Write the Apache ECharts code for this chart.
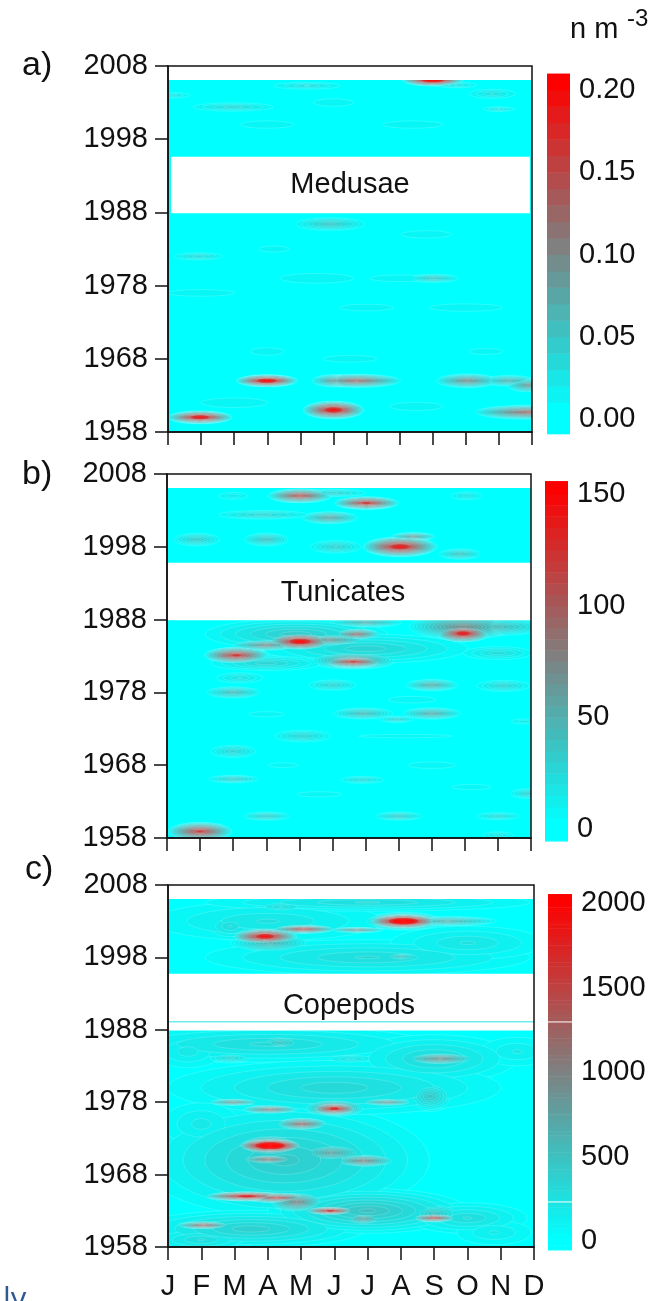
<!DOCTYPE html>
<html><head><meta charset="utf-8">
<style>html,body{margin:0;padding:0;background:#fff}#c{width:659px;height:1301px}</style>
<script src="https://cdn.jsdelivr.net/npm/echarts@6/dist/echarts.min.js"></script>
</head><body><div id="c"></div>
<script>
const monthLabels = ['J','F','M','A','M','J','J','A','S','O','N','D'];
const yearMin = 1958, yearMax = 2008;

// Each row: month index, year, reach in months, reach in years, peak value
const medusaeBlobs = [
 [0.97,1960,1.0,0.9,0.21],[2.99,1965,0.95,0.85,0.22],[5,1961,0.95,1.25,0.21],
 [5.7,1965,1.4,0.95,0.13],[5,1965,0.7,0.9,0.09],[9.05,1965,1.0,1.0,0.10],[10.3,1965,0.9,0.8,0.07],[10.9,1964.4,0.7,1.0,0.09],
 [10.9,1960.7,1.7,1.0,0.13],[8.03,1979,0.85,0.65,0.05],[0.92,1982,0.9,0.6,0.035],[4.9,1986.4,1.2,1.0,0.05],
 [8,2006.1,0.95,0.85,0.24],[1.97,2002.4,1.5,0.7,0.035],[0.15,2004,0.7,0.5,0.025],[4.2,2005.3,1.3,0.6,0.03],
 [9.8,2004.2,0.9,0.8,0.03],[10,2002.1,0.6,0.4,0.03],[8.7,2005.4,0.8,0.5,0.03],
 // faint outer contours
 [3,2000,1.6,1,0.014],[7.4,2000,1.8,1,0.014],[5,2003,1.2,1,0.014],[1,1977,2,0.9,0.014],[4.5,1979,2.2,1.3,0.014],
 [6,1975,1.6,0.9,0.014],[9,1975,2.2,1,0.014],[3,1969,1,1,0.014],[5.5,1968,1.6,0.9,0.014],[9.6,1969,1,0.8,0.014],
 [7,1979,1.8,0.9,0.014],[2,1962,2,1.3,0.014],[7.5,1961.5,1.6,1.1,0.014],[3.2,1983,0.9,0.8,0.014],[7.8,1985,1.5,1,0.014]
];
const tunicatesBlobs = [
 [4.02,2005,1,1,115],[6.03,2004,1,0.9,130],[4.92,2002,0.9,0.9,60],[2.9,2002.4,1.6,0.7,30],[7.04,1998,1.15,1.4,150],
 [7.44,1999.4,0.7,0.6,65],[3,1999,0.75,1,40],[0.9,1999,0.8,1,35],[5.1,1998,0.9,1,32],[8.85,1997,0.7,0.8,40],
 [2,2005,0.65,0.7,15],[9.05,2005,0.6,0.7,20],[5,2005.4,1.2,0.6,30],[4.02,1985,1,1.15,165],[2.1,1983.1,1,1.15,130],
 [8.95,1986.1,0.85,1.2,150],[8.95,1987,1.75,1.8,75],[5.63,1982.2,1,0.9,125],[5.63,1982.4,1.4,1.3,70],[5.73,1986,0.75,0.8,90],
 [3,1984.5,1.1,0.8,75],[4.9,1985.2,1.25,0.9,70],[3.9,1986,3.2,2.4,35],[6,1984,3.7,2.4,30],[10,1987,1.6,1.3,45],
 [10,1983.4,1.3,1.1,25],[6,1987.6,1.2,0.7,50],[3,1982,2,1.2,30],
 [8,1979,0.85,0.85,55],[10.16,1978.9,0.95,0.9,30],[5,1979,0.85,0.85,30],[2,1978,0.9,0.85,45],[2.2,1980,0.9,0.9,22],
 [5.93,1975.1,1,0.85,45],[8,1975.1,0.95,0.85,55],[6.94,1974.3,0.6,0.5,30],[4.1,1972,1,0.95,30],[2,1969.9,0.8,1,30],
 [2,1966.1,0.85,0.6,35],[5.9,1966,0.8,0.6,25],[10.9,1964.1,0.6,0.8,30],[3,1961,0.8,0.65,35],[7,1961,0.8,0.65,35],
 [10,1961,0.8,0.6,25],[1,1958.9,1,1.3,125],[10,1958.4,0.6,0.6,20],[10.8,1974,0.6,0.5,15],[7.2,1972,2.8,0.45,10],
 // faint outer contours
 [8,1968,1.6,1,9],[3.5,1968,1,0.7,9],[4.6,1964,1.5,0.8,9],[9.2,1965,1.3,0.8,9],[3,1975,1.2,0.8,9],[7.4,1977,1.6,1,9]
];
const copepodsBlobs = [
 [7.08,2003,1.05,1.0,2700],[7.08,2003,1.25,1.3,1000],[2.92,2000.9,1,1.1,2100],[4.07,2001.9,1,0.6,1500],[5.68,2001.8,0.85,0.4,900],
 [8.4,2003,1.6,0.7,700],[3.07,2000,1.3,1.4,650],[1.87,2002.3,1,2.3,320],[7,1998.1,0.75,0.75,520],[5.8,1997.9,1.1,1.2,320],
 [8.9,1999.7,0.9,1.2,220],[3.4,2005,1.1,1,320],[3,2003,4.5,3.5,260],[6,1998,6,3,320],[9,2000,3,3,260],[6,2005.6,6,1.5,320],
 [8.18,1984,1.2,0.95,950],[3.37,1986.2,1.1,1.4,480],[1.87,1984.1,0.9,0.8,360],[5.5,1984,1.1,0.8,280],[3,1986,6,3,330],[8,1984,3,4,350],
 [3.07,1972,1,1,2800],[3.07,1972,1.15,1.7,1100],[5,1977.1,0.75,0.9,1900],[5,1977.2,1,1.3,1000],[4.02,1975,0.85,0.9,1250],
 [3.07,1977,0.9,0.6,1100],[1.97,1978,0.8,0.5,900],[6.58,1978,0.85,0.5,900],[3.02,1970.1,1,0.75,1100],[5.88,1969.9,1,1,1050],
 [4.9,1971,1.2,1.4,800],[2.37,1965,1.3,0.7,1950],[3.27,1964.8,1.1,0.75,1550],[3.87,1964.2,0.9,1.5,1050],[4.88,1963,0.8,0.6,1800],
 [8,1962,0.7,0.6,1500],[8,1962.6,1,1.7,520],[1.07,1961,0.9,0.6,1250],[5.88,1961.9,0.7,1,800],[7.88,1978.8,0.8,2.4,480],
 [3.5,1970,5,9,460],[2.5,1960.5,4,3,420],[1,1959,2,2,320],[6,1963,3.4,3.5,520],[9,1962,2.2,2.6,320],[5,1980,6,4.5,360],[9.8,1960,1.6,2.4,200],
 [1,1975,1.6,4,220],[0.6,1985,1.4,3,230],[10.5,1985,1.6,2.8,200]
];

const medusaeGaps = [[2006.1,2008,0,11],[1987.9,1995.6,0.09,10.94]];
const tunicatesGaps = [[2006.08,2008,0,11],[1987.9,1995.8,0,11]];
const copepodsGaps = [[2006.07,2008,0,11],[1987.9,1995.74,0,11]];
const copepodsLineYears = [1989.1];
const copepodsBarLines = [1296,231];

const medusaeBarTicks = [0,0.05,0.1,0.15,0.2];
const tunicatesBarTicks = [0,50,100,150];
const copepodsBarTicks = [0,500,1000,1500,2000];

const font = '"Liberation Sans", Arial, sans-serif';
const black = '#111';

function colorAt(t){
  t = Math.max(0,Math.min(1,t));
  const r = Math.round(255*t), g = Math.round(255*(1-t));
  return 'rgb('+r+','+g+','+g+')';
}
function rings(blobs, step, top){
  const rows = [];
  for (const b of blobs){
    for (let l = 1; l*step < b[4]; l++){
      const k = 1 - l*step/b[4];
      rows.push([b[0],b[1],b[2]*k,b[3]*k,l*step/top]);
    }
  }
  rows.sort((p,q)=>p[4]-q[4]);
  return rows;
}
const panels = [
 {name:'Medusae',blobs:medusaeBlobs,gaps:medusaeGaps,lines:[],barLines:[],ticks:medusaeBarTicks,digits:2,step:0.007,top:0.2,barStep:0.01,
  grid:{left:168,top:66,width:364,height:366},bar:{left:547,top:90,width:23,height:329},barLow:-0.009,barHigh:0.21,xLabels:false},
 {name:'Tunicates',blobs:tunicatesBlobs,gaps:tunicatesGaps,lines:[],barLines:[],ticks:tunicatesBarTicks,digits:0,step:5,top:150,barStep:5,
  grid:{left:167,top:474,width:364,height:364},bar:{left:545,top:494,width:23,height:335},barLow:-5.4,barHigh:155.8,xLabels:false},
 {name:'Copepods',blobs:copepodsBlobs,gaps:copepodsGaps,lines:copepodsLineYears,barLines:copepodsBarLines,ticks:copepodsBarTicks,digits:0,step:60,top:2000,barStep:25,
  grid:{left:168,top:885,width:366,height:363},bar:{left:548,top:903,width:24,height:338},barLow:-53,barHigh:2053,xLabels:true}
];
const grids=[],xAxes=[],yAxes=[],series=[];
panels.forEach((p,i)=>{
  const gi = grids.length;
  grids.push(Object.assign({show:true,backgroundColor:'#00ffff',borderWidth:0},p.grid));
  xAxes.push({type:'value',gridIndex:gi,min:0,max:11,interval:1,z:5,
    axisLine:{onZero:false,lineStyle:{color:black,width:1.5}},
    axisTick:{show:true,length:13,lineStyle:{color:black,width:1.5}},splitLine:{show:false},
    axisLabel:{show:p.xLabels,margin:25,fontSize:29,fontFamily:font,color:black,hideOverlap:false,showMinLabel:true,showMaxLabel:true,
      formatter:v=>monthLabels[v]}});
  yAxes.push({type:'value',gridIndex:gi,min:yearMin,max:yearMax,interval:10,z:5,
    axisLine:{onZero:false,lineStyle:{color:black,width:1.5}},
    axisTick:{show:true,length:13,lineStyle:{color:black,width:1.5}},splitLine:{show:false},
    axisLabel:{margin:20,fontSize:29,fontFamily:font,color:black,formatter:v=>String(v)}});
  // contour bands
  series.push({type:'custom',name:p.name,xAxisIndex:gi,yAxisIndex:gi,clip:true,silent:true,z:2,animation:false,
    data:rings(p.blobs,p.step,p.top),
    encode:{x:0,y:1},
    renderItem:(params,api)=>{
      const c = api.coord([api.value(0),api.value(1)]);
      const s = api.size([api.value(2),api.value(3)]);
      const t = api.value(4);
      return {type:'ellipse',shape:{cx:c[0],cy:c[1],rx:s[0],ry:s[1]},
        style:{fill:colorAt(t),stroke:'rgba(255,255,255,'+(t>0.75?0.08:0.32)+')',lineWidth:0.5}};
    }});
  // unsampled years
  series.push({type:'custom',xAxisIndex:gi,yAxisIndex:gi,silent:true,z:3,animation:false,clip:true,
    data:p.gaps,encode:{x:2,y:0},
    renderItem:(params,api)=>{
      const a = api.coord([api.value(2),api.value(1)]);
      const b = api.coord([api.value(3),api.value(0)]);
      return {type:'rect',shape:{x:a[0],y:a[1],width:b[0]-a[0],height:b[1]-a[1]},style:{fill:'#fff'}};
    }});
  if (p.lines.length) series.push({type:'custom',xAxisIndex:gi,yAxisIndex:gi,silent:true,z:4,animation:false,
    data:p.lines.map(v=>[v]),encode:{y:0},
    renderItem:(params,api)=>{
      const a = api.coord([0,api.value(0)]), b = api.coord([11,api.value(0)]);
      return {type:'line',shape:{x1:a[0],y1:a[1],x2:b[0],y2:b[1]},style:{stroke:'#1fe6e6',lineWidth:1}};
    }});
  // frame
  series.push({type:'custom',xAxisIndex:gi,yAxisIndex:gi,silent:true,z:6,animation:false,
    data:[[0,yearMax,11,yearMin]],encode:{x:0,y:1},
    renderItem:(params,api)=>{
      const a = api.coord([api.value(0),api.value(1)]), b = api.coord([api.value(2),api.value(3)]);
      return {type:'rect',shape:{x:a[0],y:a[1],width:b[0]-a[0],height:b[1]-a[1]},style:{fill:'none',stroke:black,lineWidth:1.5}};
    }});
  // colour bar
  const bi = grids.length;
  grids.push(Object.assign({show:false},p.bar));
  xAxes.push({type:'value',gridIndex:bi,min:0,max:1,show:false});
  const tMax = p.ticks[p.ticks.length-1];
  yAxes.push({type:'value',gridIndex:bi,position:'right',min:0,max:tMax,interval:p.ticks[1]-p.ticks[0],
    axisLine:{show:false},axisTick:{show:false},splitLine:{show:false},
    axisLabel:{margin:9,fontSize:29,fontFamily:font,color:black,formatter:v=>v.toFixed(p.digits)}});
  const bands=[];
  for (let v=p.barLow; v<p.barHigh-1e-9; ){
    const next = Math.min(p.barHigh,(Math.floor(v/p.barStep+1e-6)+1)*p.barStep);
    bands.push([v,next]); v=next;
  }
  series.push({type:'custom',xAxisIndex:bi,yAxisIndex:bi,silent:true,z:2,animation:false,clip:false,
    data:bands,encode:{y:0},
    renderItem:(params,api)=>{
      const a = api.coord([0,api.value(1)]), b = api.coord([1,api.value(0)]);
      return {type:'rect',shape:{x:a[0],y:a[1],width:b[0]-a[0],height:b[1]-a[1]+0.5},
        style:{fill:colorAt(Math.max(api.value(0),0)/p.top)}};
    }});
  if (p.barLines.length) series.push({type:'custom',xAxisIndex:bi,yAxisIndex:bi,silent:true,z:3,animation:false,clip:false,
    data:p.barLines.map(v=>[v]),encode:{y:0},
    renderItem:(params,api)=>{
      const a = api.coord([0,api.value(0)]), b = api.coord([1,api.value(0)]);
      return {type:'line',shape:{x1:a[0],y1:a[1],x2:b[0],y2:b[1]},style:{stroke:'#fff',lineWidth:1}};
    }});
});
const txt=(x,y,text,size,extra)=>({type:'text',x,y,silent:true,z:10,
  style:Object.assign({text,fontSize:size,fontFamily:font,fill:black,textVerticalAlign:'middle'},extra||{})});
const graphics=[
 txt(22,66,'a)',34),txt(22,475,'b)',34),txt(25,870,'c)',34),
 txt(350,185,'Medusae',29,{textAlign:'center'}),txt(343,593,'Tunicates',29,{textAlign:'center'}),txt(349,1006,'Copepods',29,{textAlign:'center'}),
 txt(570,30,'n m',29),txt(627,19,'-3',24),
 {type:'text',x:3,y:1300,silent:true,z:10,style:{text:'ly',fontSize:31,fontFamily:'"Open Sans",sans-serif',fill:'#2e5a94',textVerticalAlign:'middle'}}
];
const chart = echarts.init(document.getElementById('c'),null,{renderer:'canvas'});
chart.setOption({animation:false,backgroundColor:'#fff',grid:grids,xAxis:xAxes,yAxis:yAxes,series,graphic:graphics});
</script></body></html>
